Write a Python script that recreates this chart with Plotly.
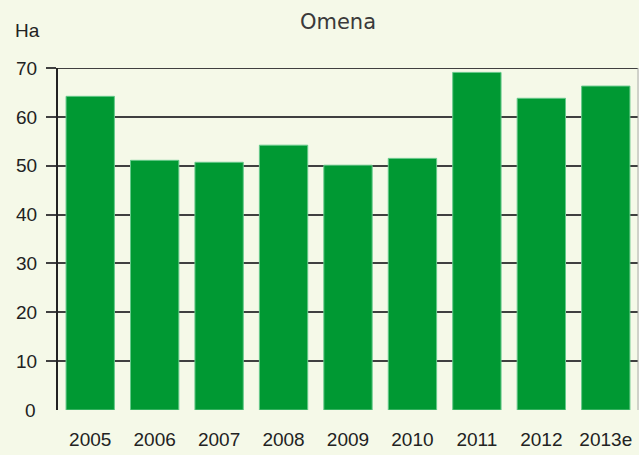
import plotly.graph_objects as go

years = ["2005", "2006", "2007", "2008", "2009", "2010", "2011", "2012", "2013e"]
values = [64.2, 51.1, 50.7, 54.2, 50.1, 51.5, 69.1, 63.8, 66.3]
y_ticks = [0, 10, 20, 30, 40, 50, 60, 70]

bg = "#F5F9E8"
y_range = [y_ticks[0], y_ticks[-1]]
fig = go.Figure()
fig.add_trace(go.Bar(
    x=years, y=values,
    marker=dict(color="#009933", line=dict(color="#66C98A", width=1)),
))
fig.update_layout(
    width=639, height=455,
    paper_bgcolor=bg, plot_bgcolor=bg,
    margin=dict(l=58, r=1, t=68, b=45),
    bargap=0.25,
    showlegend=False,
    font=dict(family="Liberation Sans, Arial, sans-serif", color="#222222", size=19),
    title=dict(text="Omena", x=0.529, xanchor="center", y=0.952, yanchor="middle",
               font=dict(family="DejaVu Sans, sans-serif", size=21, color="#3A3A3A")),
    annotations=[
        dict(text="Ha", xref="paper", yref="paper", x=-0.052, y=1.111,
             xanchor="center", yanchor="middle", showarrow=False,
             font=dict(size=19, color="#222222")),
        dict(text=str(y_ticks[0]), xref="paper", yref="y", x=0, y=y_ticks[0],
             xanchor="right", yanchor="middle", xshift=-20, showarrow=False,
             font=dict(size=19, color="#222222")),
    ],
    yaxis=dict(
        range=y_range, tickvals=y_ticks[1:], showgrid=True, gridcolor="#404040", gridwidth=2,
        zeroline=False, showline=True, linecolor="#222222", linewidth=2,
        ticks="outside", ticklen=10, tickcolor="#404040", tickwidth=2,
        ticklabelstandoff=5, tickfont=dict(size=19),
    ),
    xaxis=dict(showgrid=False, showline=False, ticks="", ticklabelstandoff=16,
               tickfont=dict(size=19)),
)
fig.add_shape(type="line", xref="paper", yref="y", x0=0, x1=1,
              y0=y_ticks[-1], y1=y_ticks[-1], line=dict(color="#404040", width=2))
fig.add_shape(type="line", xref="paper", yref="paper", x0=1, x1=1, y0=0, y1=1,
              line=dict(color="#AAAAAA", width=1))
fig.write_html("out.html", config={"displayModeBar": False},
               post_script="document.body.style.margin='0';document.body.style.overflow='hidden';")
